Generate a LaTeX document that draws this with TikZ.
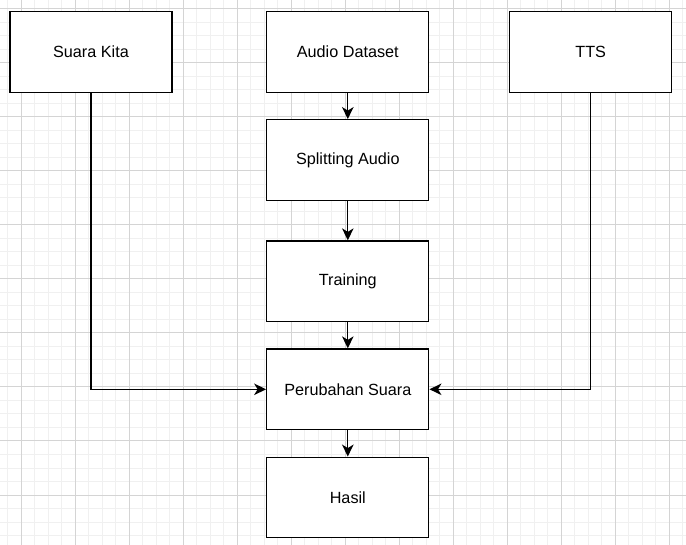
\documentclass[tikz,border=0pt]{standalone}
\usepackage{fontspec}
\setmainfont{Liberation Sans}
\usetikzlibrary{arrows.meta}
\begin{document}
\begin{tikzpicture}[x=1pt,y=-1pt,
  minorgrid/.style={draw=black!6,line width=1pt},
  majorgrid/.style={draw=black!17,line width=1pt},
  box/.style={draw=black,fill=white,line width=1.35pt,rectangle,minimum width=162pt,minimum height=80.5pt,inner sep=0pt,font=\fontsize{16.2}{19}\selectfont},
  conn/.style={draw=black,line width=1.35pt,-{Stealth[length=12pt,width=11.5pt,inset=3.5pt]}}]
\useasboundingbox (0,0) rectangle (686,545);
\fill[white] (0,0) rectangle (686,545);
% grid
\foreach \i in {0,...,50} {
  \pgfmathsetmacro{\gx}{7.8+13.5*\i}
  \ifdim\gx pt<686pt \draw[minorgrid] (\gx,0) -- (\gx,545); \fi
}
\foreach \i in {0,...,40} {
  \pgfmathsetmacro{\gy}{9+13.5*\i}
  \ifdim\gy pt<545pt \draw[minorgrid] (0,\gy) -- (686,\gy); \fi
}
\foreach \i in {0,...,12} {
  \pgfmathsetmacro{\gx}{21.3+54*\i}
  \ifdim\gx pt<686pt \draw[majorgrid] (\gx,0) -- (\gx,545); \fi
}
\foreach \i in {0,...,10} {
  \pgfmathsetmacro{\gy}{9+54*\i}
  \ifdim\gy pt<545pt \draw[majorgrid] (0,\gy) -- (686,\gy); \fi
}
% nodes
\node[box] (sk) at (91,52) {Suara Kita};
\node[box] (ad) at (347.8,52) {Audio Dataset};
\node[box] (tts) at (590.7,52) {TTS};
\node[box] (sp) at (347.8,160) {Splitting Audio};
\node[box] (tr) at (347.8,281.3) {Training};
\node[box] (ps) at (347.8,389.3) {Perubahan Suara};
\node[box] (ha) at (347.8,497.5) {Hasil};
% connectors
\draw[conn] (ad) -- (sp);
\draw[conn] (sp) -- (tr);
\draw[conn] (tr) -- (ps);
\draw[conn] (ps) -- (ha);
\draw[conn] (sk) |- (ps);
\draw[conn] (tts) |- (ps);
\end{tikzpicture}
\end{document}
